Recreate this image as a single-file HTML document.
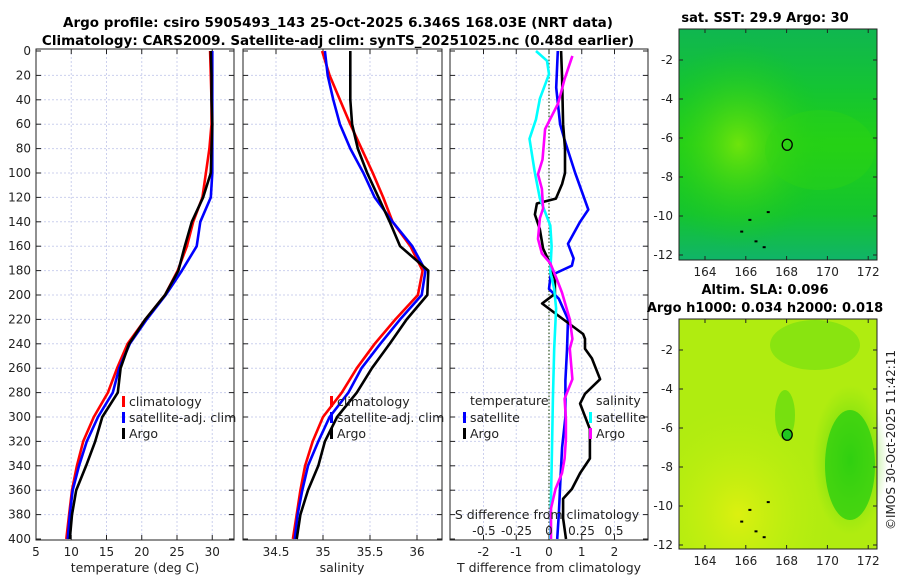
<!DOCTYPE html>
<html><head><meta charset="utf-8"><style>
body{margin:0;background:#fff;}
svg{display:block;font-family:"DejaVu Sans","Liberation Sans",sans-serif;}
</style></head><body>
<svg id="fig" width="900" height="580" xmlns="http://www.w3.org/2000/svg">
<defs>
<radialGradient id="sstA" cx="0.3" cy="0.5" r="0.45"><stop offset="0" stop-color="#6ee40c"/><stop offset="1" stop-color="#14c81c" stop-opacity="0"/></radialGradient>
<linearGradient id="sstB" x1="0" y1="0" x2="0" y2="1"><stop offset="0" stop-color="#10b650"/><stop offset="0.25" stop-color="#14c434"/><stop offset="0.5" stop-color="#20d016"/><stop offset="0.8" stop-color="#14c430"/><stop offset="1" stop-color="#10b468"/></linearGradient>
<radialGradient id="slaY" cx="0.3" cy="0.85" r="0.5"><stop offset="0" stop-color="#dcf010"/><stop offset="1" stop-color="#b4ee10" stop-opacity="0"/></radialGradient>
<radialGradient id="slaG" cx="0.5" cy="0.5" r="0.5"><stop offset="0" stop-color="#30d010"/><stop offset="1" stop-color="#70e010" stop-opacity="0"/></radialGradient>
</defs>
<text x="338" y="27" text-anchor="middle" font-size="13.5" font-weight="bold">Argo profile: csiro 5905493_143 25-Oct-2025 6.346S 168.03E (NRT data)</text>
<text x="338" y="45" text-anchor="middle" font-size="13.5" font-weight="bold">Climatology: CARS2009. Satellite-adj clim: synTS_20251025.nc (0.48d earlier)</text>
<g id="p1"></g>
<g id="p2"></g>
<g id="p3"></g>
<g id="maps">
<text x="765" y="22" text-anchor="middle" font-size="13" font-weight="bold">sat. SST: 29.9 Argo: 30</text>
<rect x="679" y="29" width="198" height="231" fill="url(#sstB)"/>
<rect x="679" y="29" width="198" height="231" fill="url(#sstA)"/>
<ellipse cx="820" cy="150" rx="55" ry="40" fill="#30d414" opacity="0.35"/>
<text x="765" y="294" text-anchor="middle" font-size="13" font-weight="bold">Altim. SLA: 0.096</text>
<text x="765" y="312" text-anchor="middle" font-size="13" font-weight="bold">Argo h1000: 0.034 h2000: 0.018</text>
<rect x="679" y="319" width="198" height="230" fill="#b0ec10"/>
<rect x="679" y="319" width="198" height="230" fill="url(#slaY)"/>
<ellipse cx="850" cy="460" rx="38" ry="75" fill="url(#slaG)"/>
<ellipse cx="850" cy="465" rx="25" ry="55" fill="#30d010" opacity="0.8"/>
<ellipse cx="785" cy="415" rx="10" ry="25" fill="#60dc10" opacity="0.7"/>
<ellipse cx="815" cy="345" rx="45" ry="25" fill="#70e010" opacity="0.6"/>
<text x="895" y="440" text-anchor="middle" font-size="12" transform="rotate(-90 895 440)" fill="#222">©IMOS 30-Oct-2025 11:42:11</text>
</g>
</svg>
<script>
// ---- profile data (depth m, value) ----
const depths = [0,20,40,60,80,100,120,140,160,180,200,220,240,260,280,300,320,340,360,380,400];
const tempClim = [29.7,29.8,29.9,29.9,29.6,29.1,28.6,27.3,26.4,25.1,23.3,20.5,18.0,16.5,15.2,13.2,11.7,10.8,10.1,9.7,9.3];
const tempSat  = [30.0,30.0,30.0,30.0,30.0,30.0,29.8,28.3,27.8,25.7,23.4,20.7,18.3,16.8,15.9,13.8,12.2,11.1,10.2,9.8,9.5];
const tempArgo = [29.8,29.9,29.9,30.0,29.9,29.8,28.7,27.1,26.1,25.2,23.3,20.5,18.2,17.0,16.6,14.4,13.4,12.1,10.7,10.1,9.8];
const salClim = [34.99,35.07,35.18,35.29,35.41,35.53,35.64,35.74,35.93,36.06,36.01,35.77,35.55,35.36,35.20,35.00,34.89,34.81,34.76,34.72,34.68];
const salSat  = [35.02,35.05,35.11,35.18,35.29,35.43,35.55,35.74,35.95,36.09,36.05,35.82,35.61,35.41,35.27,35.07,34.95,34.84,34.78,34.73,34.70];
const salArgo = [35.29,35.29,35.29,35.31,35.37,35.47,35.59,35.71,35.82,36.12,36.11,35.89,35.71,35.52,35.36,35.15,35.02,34.95,34.84,34.76,34.72];
// difference profiles: [depth, diff]
const dTSat  = [[0,0.27],[30,0.22],[60,0.34],[75,0.5],[100,0.8],[130,1.2],[140,0.95],[158,0.58],[170,0.75],[176,0.7],[184,0.05],[195,0],[203,0.3],[220,0.58],[245,0.55],[270,0.5],[300,0.5],[325,0.4],[350,0.35],[380,0.3],[400,0.25]];
const dTArgo = [[0,0.37],[23,0.4],[60,0.43],[80,0.49],[100,0.49],[109,0.4],[121,0.21],[125,-0.37],[134,-0.43],[146,-0.28],[162,-0.18],[174,0.03],[187,0.18],[199,0.18],[207,-0.21],[218,0.34],[232,1.04],[236,1.1],[244,1.1],[252,1.31],[269,1.56],[281,1.1],[289,0.95],[310,1.25],[334,1.25],[346,0.95],[359,0.7],[367,0.43],[383,0.43],[400,0.52]];
const dSSat  = [[0,-0.1],[8,-0.015],[19,0],[39,-0.07],[56,-0.1],[72,-0.15],[99,-0.11],[121,-0.07],[143,0.01],[160,0.02],[181,0.01],[195,0.04],[211,0.055],[244,0.04],[285,0.03],[326,0.023],[367,0.015],[400,0.01]];
const dSArgo = [[4,0.18],[23,0.12],[43,0.07],[64,-0.03],[89,-0.05],[101,-0.085],[113,-0.055],[129,-0.045],[137,-0.07],[154,-0.085],[166,-0.055],[174,0.01],[187,0.06],[198,0.1],[220,0.16],[236,0.18],[244,0.16],[269,0.18],[285,0.12],[302,0.13],[318,0.13],[334,0.12],[346,0.1],[359,0.05],[375,0.015],[400,0.015]];
const depthTicks = [0,20,40,60,80,100,120,140,160,180,200,220,240,260,280,300,320,340,360,380,400];
const tempTicks = [5,10,15,20,25,30];
const salTicks = [34.5,35,35.5,36];
const tdTicks = [-2,-1,0,1,2];
const sdTicks = ["-0.5","-0.25","0","0.25","0.5"];
const mapLonTicks = [164,166,168,170,172];
const mapLatTicks = [-2,-4,-6,-8,-10,-12];
const argoLon = 168.03, argoLat = -6.346;

const NS="http://www.w3.org/2000/svg";
const svg=document.getElementById('fig');
function mk(parent,tag,attrs,text){const e=document.createElementNS(NS,tag);for(const k in attrs)e.setAttribute(k,attrs[k]);if(text!==undefined)e.textContent=text;parent.appendChild(e);return e;}
const Y0=51, Y1=539, TOP=49, BOT=540;
const yD=d=>Y0+(Y1-Y0)*d/400;
function frame(g,x0,x1,xf,xt,gridX){
  mk(g,'rect',{x:x0,y:TOP,width:x1-x0,height:BOT-TOP,fill:'#fff'});
  depthTicks.forEach(d=>{ if(d>0&&d<400) mk(g,'line',{x1:x0,x2:x1,y1:yD(d),y2:yD(d),stroke:'#ccd0ee','stroke-width':1,'stroke-dasharray':'2,2'});
    mk(g,'line',{x1:x0,x2:x0+5,y1:yD(d),y2:yD(d),stroke:'#222'});mk(g,'line',{x1:x1-5,x2:x1,y1:yD(d),y2:yD(d),stroke:'#222'});});
  gridX.forEach(v=>{const x=xf(v); if(x>x0+1&&x<x1-1){mk(g,'line',{x1:x,x2:x,y1:TOP,y2:BOT,stroke:'#ccd0ee','stroke-width':1,'stroke-dasharray':'2,2'});}
    mk(g,'line',{x1:x,x2:x,y1:BOT-5,y2:BOT,stroke:'#222'});mk(g,'line',{x1:x,x2:x,y1:TOP,y2:TOP+5,stroke:'#222'});
    const t=mk(g,'text',{x:x,y:556,'text-anchor':'middle','font-size':12,fill:'#222'},xt(v));
    
    });
}
function line(g,pts,color,name){
  const p=mk(g,'polyline',{points:pts.map(q=>q[0].toFixed(1)+','+q[1].toFixed(1)).join(' '),fill:'none',stroke:color,'stroke-width':2.6,'stroke-linejoin':'round'});
  
  
}
function border(g,x0,x1){mk(g,'rect',{x:x0,y:TOP,width:x1-x0,height:BOT-TOP,fill:'none',stroke:'#222','stroke-width':1});}
function legend(g,x,y,items){items.forEach((it,i)=>{const yy=y+i*16;mk(g,'rect',{x:x,y:yy-10,width:3,height:11,fill:it[1]});
  const t=mk(g,'text',{x:x+7,y:yy,'font-size':12.5,fill:'#222'},it[0]);
  
  });}

// panel 1
const p1=document.getElementById('p1');
const xT=v=>36+(v-5)*7.05;
frame(p1,36,234,xT,v=>String(v),tempTicks);
depthTicks.forEach(d=>{const t=mk(p1,'text',{x:31,y:yD(d)+4,'text-anchor':'end','font-size':12,fill:'#222'},String(d));
  
  });
line(p1,depths.map((d,i)=>[xT(tempClim[i]),yD(d)]),'#f00','temp-climatology-line');
line(p1,depths.map((d,i)=>[xT(tempSat[i]),yD(d)]),'#00f','temp-satellite-line');
line(p1,depths.map((d,i)=>[xT(tempArgo[i]),yD(d)]),'#000','temp-argo-line');
border(p1,36,234);
legend(p1,122,406,[['climatology','#f00'],['satellite-adj. clim','#00f'],['Argo','#000']]);
mk(p1,'text',{x:135,y:572,'text-anchor':'middle','font-size':12.5,fill:'#222',},'temperature (deg C)');

// panel 2
const p2=document.getElementById('p2');
const xS=v=>276+(v-34.5)*94;
frame(p2,243,442,xS,v=>String(v),salTicks);
line(p2,depths.map((d,i)=>[xS(salClim[i]),yD(d)]),'#f00','sal-climatology-line');
line(p2,depths.map((d,i)=>[xS(salSat[i]),yD(d)]),'#00f','sal-satellite-line');
line(p2,depths.map((d,i)=>[xS(salArgo[i]),yD(d)]),'#000','sal-argo-line');
border(p2,243,442);
legend(p2,330,406,[['climatology','#f00'],['satellite-adj. clim','#00f'],['Argo','#000']]);
mk(p2,'text',{x:342,y:572,'text-anchor':'middle','font-size':12.5,fill:'#222',},'salinity');

// panel 3
const p3=document.getElementById('p3');
const xTd=v=>549+v*32.75;
const xSd=v=>549+v*130;
frame(p3,450,648,xTd,v=>String(v),tdTicks);
mk(p3,'line',{x1:549,x2:549,y1:TOP,y2:BOT,stroke:'#335522','stroke-width':1.2,'stroke-dasharray':'1.5,2'});
line(p3,dTSat.map(q=>[xTd(q[1]),yD(q[0])]),'#00f','tdiff-satellite-line');
line(p3,dTArgo.map(q=>[xTd(q[1]),yD(q[0])]),'#000','tdiff-argo-line');
line(p3,dSSat.map(q=>[xSd(q[1]),yD(q[0])]),'#0ff','sdiff-satellite-line');
line(p3,dSArgo.map(q=>[xSd(q[1]),yD(q[0])]),'#f0f','sdiff-argo-line');
border(p3,450,648);
mk(p3,'text',{x:470,y:405,'font-size':12.5,fill:'#222'},'temperature');
legend(p3,463,422,[['satellite','#00f'],['Argo','#000']]);
mk(p3,'text',{x:596,y:405,'font-size':12.5,fill:'#222'},'salinity');
legend(p3,589,422,[['satellite','#0ff'],['Argo','#f0f']]);
mk(p3,'text',{x:547,y:519,'text-anchor':'middle','font-size':12.5,fill:'#222',},'S difference from climatology');
sdTicks.forEach(s=>{const t=mk(p3,'text',{x:xSd(parseFloat(s)),y:535,'text-anchor':'middle','font-size':12,fill:'#222'},s);
  
  });
mk(p3,'text',{x:549,y:572,'text-anchor':'middle','font-size':12.5,fill:'#222',},'T difference from climatology');

// maps
const maps=document.getElementById('maps');
const xLon=l=>705+(l-164)*20.4;
function mapAxes(top,bottom,latY,withLabels){
  mk(maps,'rect',{x:679,y:top,width:198,height:bottom-top,fill:'none',stroke:'#222','stroke-width':1});
  mapLonTicks.forEach(l=>{const x=xLon(l);mk(maps,'line',{x1:x,x2:x,y1:bottom-4,y2:bottom,stroke:'#222'});mk(maps,'line',{x1:x,x2:x,y1:top,y2:top+4,stroke:'#222'});
    const t=mk(maps,'text',{x:x,y:bottom+16,'text-anchor':'middle','font-size':12,fill:'#222'},String(l));
    
    });
  mapLatTicks.forEach(l=>{const y=latY(l);mk(maps,'line',{x1:679,x2:683,y1:y,y2:y,stroke:'#222'});mk(maps,'line',{x1:873,x2:877,y1:y,y2:y,stroke:'#222'});
    const t=mk(maps,'text',{x:673,y:y+4,'text-anchor':'end','font-size':12,fill:'#222'},String(l));
    
    });
  [[165.8,-10.8],[166.2,-10.2],[166.5,-11.3],[166.9,-11.6],[167.1,-9.8]].forEach(p=>mk(maps,'rect',{x:xLon(p[0])-1.5,y:latY(p[1])-1,width:3,height:2,fill:'#000'}));
  const c=mk(maps,'ellipse',{cx:xLon(argoLon),cy:latY(argoLat),rx:5,ry:5.5,fill:withLabels,stroke:'#000','stroke-width':1.3});
  
  
}
mapAxes(29,260,l=>60+(-2-l)*19.5,'none');
mapAxes(319,549,l=>350+(-2-l)*19.5,'#20c820');
</script>
</body></html>
